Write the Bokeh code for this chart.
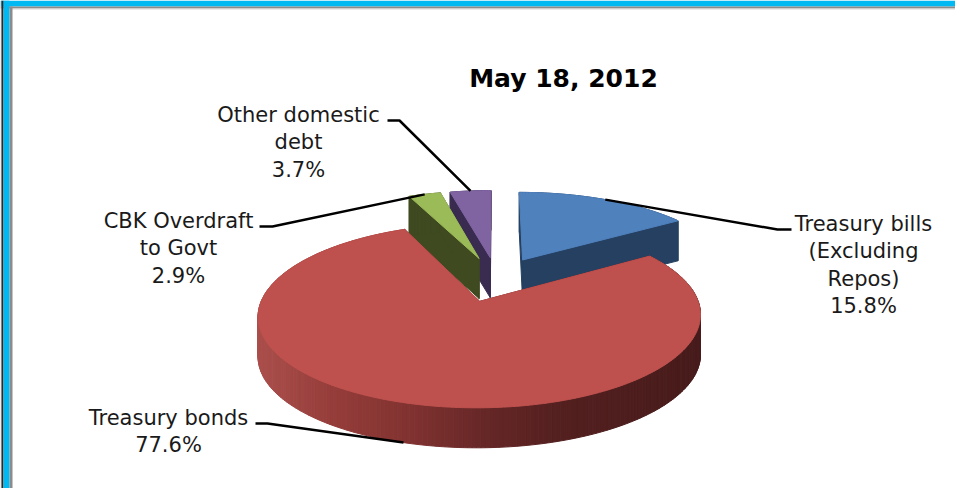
import numpy as np
from bokeh.embed import file_html
from bokeh.models import Range1d
from bokeh.plotting import figure
from bokeh.core.properties import value
from bokeh.resources import INLINE

# Domestic debt composition, clockwise from twelve o'clock
categories = ["Treasury bills", "Treasury bonds", "CBK Overdraft", "Other domestic"]
shares = [15.8, 77.6, 2.9, 3.7]
top_colors = ["#4F81BD", "#BE504D", "#9BBB59", "#8064A2"]
side_colors = ["#254061", None, "#3F4A21", "#3A2C50"]
title_text = "May 18, 2012"
label_lines = [
    ["Treasury bills", "(Excluding", "Repos)", "15.8%"],
    ["Treasury bonds", "77.6%"],
    ["CBK Overdraft", "to Govt", "2.9%"],
    ["Other domestic", "debt", "3.7%"],
]
label_centers = [(863, 223), (168, 417), (178, 220), (298, 114)]
leader_elbows = [[(791, 229), (777, 229)], [(255, 423), (267, 423)],
                 [(259, 226), (272, 226)], [(387, 120), (399, 120)]]
# Shading of the outer wall of the large slice, from left to right
wall_x = [255, 330, 400, 480, 560, 700]
wall_rgb = [(172, 80, 77), (150, 62, 59), (132, 52, 50), (104, 40, 40), (84, 32, 32), (72, 28, 28)]

# Projection of the tilted disc
CX, CY, RX, RY, TILT, EXPLODE, DEPTH = 496, 278.5, 210, 83, 0.15, 0.27, 40


def project(u, v):
    d = 1 + TILT * v
    return CX + RX * u / d, CY - RY * v / d


def slice_outline(a0, a1):
    mid = np.radians((a0 + a1) / 2)
    ox, oy = EXPLODE * np.sin(mid), EXPLODE * np.cos(mid)
    t = np.radians(np.linspace(a0, a1, max(int(a1 - a0), 4) + 1))
    xs, ys = project(ox + np.sin(t), oy + np.cos(t))
    ax, ay = project(ox, oy)
    return ax, ay, xs, ys


def wall_quads(px, py):
    qx, qy = [], []
    for i in range(len(px) - 1):
        qx.append([px[i], px[i + 1], px[i + 1], px[i]])
        qy.append([py[i], py[i + 1], py[i + 1] + DEPTH, py[i] + DEPTH])
    return qx, qy


p = figure(width=955, height=488, output_backend="svg", toolbar_location=None,
           x_range=Range1d(0, 955), y_range=Range1d(488, 0), min_border=0,
           outline_line_color=None, background_fill_color="white", border_fill_color="white")
p.axis.visible = False
p.grid.visible = False

# Window-like frame along the top and left edges
p.quad(left=[0, 0, 0], right=[955, 955, 955], top=[0, 6, 8], bottom=[6, 8, 9],
       fill_color=["#00B9F2", "#8C8C8C", "#D5D5D5"], line_color=None)
p.quad(left=[0, 1, 3, 9], right=[1, 3, 9, 12], top=[0, 0, 0, 6], bottom=[488, 488, 488, 488],
       fill_color=["#BBBBBB", "#2B2B2B", "#00B9F2", "#8C8C8C"], line_color=None)

angles = np.concatenate([[0], np.cumsum(shares) / sum(shares) * 360])
outlines = [slice_outline(angles[i], angles[i + 1]) for i in range(len(shares))]

# Small slices first, the large slice is painted over their walls
for i in [0, 3, 2, 1]:
    ax, ay, xs, ys = outlines[i]
    px = np.concatenate([[ax], xs, [ax]])
    py = np.concatenate([[ay], ys, [ay]])
    qx, qy = wall_quads(px, py)
    if side_colors[i] is None:
        cols = []
        for q in qx:
            x = np.mean(q)
            rgb = [int(np.interp(x, wall_x, [c[k] for c in wall_rgb])) for k in range(3)]
            cols.append("#%02x%02x%02x" % tuple(rgb))
    else:
        cols = [side_colors[i]] * len(qx)
    p.patches(qx, qy, fill_color=cols, line_color=cols, line_width=1)
    p.patch(px, py, fill_color=top_colors[i], line_color=top_colors[i], line_width=1)

# Leader lines: from the label elbow to the rim at each slice's mid angle
for i in range(len(shares)):
    mid = np.radians((angles[i] + angles[i + 1]) / 2)
    u = np.sin(mid) * (1 + EXPLODE)
    v = np.cos(mid) * (1 + EXPLODE)
    ex, ey = project(u, v)
    if side_colors[i] is None:
        ey += DEPTH
    lx = [leader_elbows[i][0][0], leader_elbows[i][1][0], ex]
    ly = [leader_elbows[i][0][1], leader_elbows[i][1][1], ey]
    p.line(lx, ly, line_color="black", line_width=2.5)

FONT = value("DejaVu Sans")
for lines, (cx, cy) in zip(label_lines, label_centers):
    ys = [cy + 27.5 * k for k in range(len(lines))]
    p.text([cx] * len(lines), ys, text=lines, text_font=FONT, text_font_size="21px",
           text_align="center", text_baseline="middle", text_color="#1a1a1a")

p.text([563], [78], text=[title_text], text_font=value("DejaVu Sans"), text_font_size="25px",
       text_font_style="bold", text_align="center", text_baseline="middle", text_color="black")

open("out.html", "w").write(file_html(p, INLINE))
